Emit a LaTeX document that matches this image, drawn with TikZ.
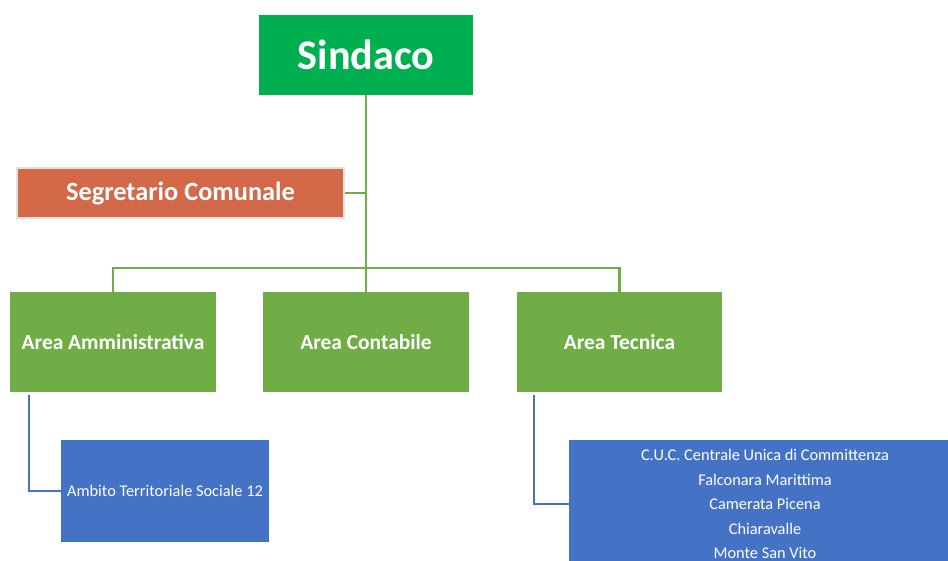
\documentclass[tikz,border=0pt]{standalone}
\usepackage{fontspec}
\setmainfont{Carlito}
\definecolor{sindacogreen}{HTML}{00B050}
\definecolor{areagreen}{HTML}{70AD47}
\definecolor{segorange}{HTML}{D4694A}
\definecolor{unitblue}{HTML}{4472C4}
\begin{document}
\begin{tikzpicture}[x=0.02cm,y=-0.02cm,
    box/.style={inner sep=0pt, text=white, align=center},
    areabox/.style={box, fill=areagreen, minimum width=4.12cm, minimum height=2cm, font=\fontsize{12.2}{14}\bfseries},
    unitbox/.style={box, fill=unitblue, font=\fontsize{9.3}{13.9}\selectfont},
    greenline/.style={draw=areagreen, line width=1.6pt},
    blueline/.style={draw=unitblue, line width=1.3pt}]
    \clip (0,0) rectangle (948,561);
    \useasboundingbox (0,0) rectangle (948,561);
    \node[box, fill=sindacogreen, minimum width=4.28cm, minimum height=1.6cm, font=\fontsize{24}{28}\bfseries] (sindaco) at (366,55) {Sindaco};
    \node[box, fill=segorange, draw=black!12, line width=1.2pt, minimum width=6.54cm, minimum height=1cm, font=\fontsize{15}{18}\bfseries] (segretario) at (180.5,193) {Segretario Comunale};
    \node[areabox] (amministrativa) at (113,342) {Area Amministrativa};
    \node[areabox] (contabile) at (366,342) {Area Contabile};
    \node[areabox] (tecnica) at (619.5,342) {Area Tecnica};
    \node[unitbox, minimum width=4.16cm, minimum height=2.04cm] (ambito) at (165,491) {Ambito Territoriale Sociale 12};
    \node[unitbox, minimum width=7.84cm, minimum height=2.56cm] (cuc) at (765,504) {C.U.C. Centrale Unica di Committenza\\Falconara Marittima\\Camerata Picena\\Chiaravalle\\Monte San Vito};
    \coordinate (bus) at (366,268);
    \draw[greenline] (sindaco.south) -- (contabile.north);
    \draw[greenline] (segretario.east) -- (segretario.east -| sindaco.south);
    \draw[greenline] (amministrativa.north) |- (bus) -| (tecnica.north);
    \draw[blueline] ([xshift=0.38cm,yshift=-0.06cm]amministrativa.south west) |- (ambito.west);
    \draw[blueline] ([xshift=0.36cm,yshift=-0.06cm]tecnica.south west) |- (cuc.west);
\end{tikzpicture}
\end{document}
